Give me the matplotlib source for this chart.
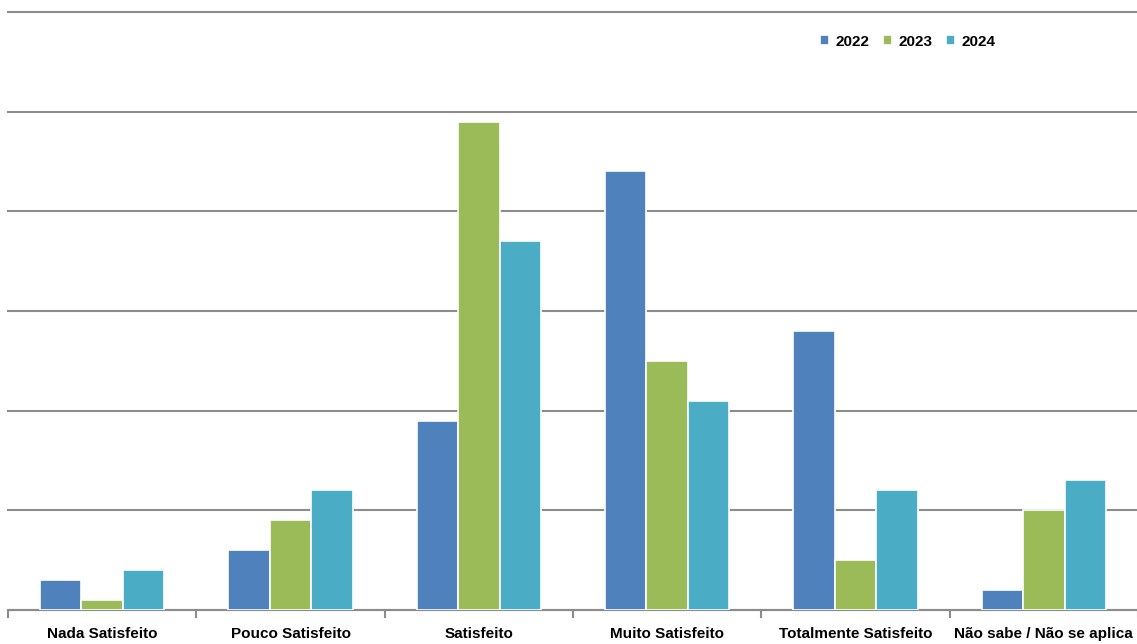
import matplotlib.pyplot as plt
import numpy as np

categories = ["Nada Satisfeito", "Pouco Satisfeito", "Satisfeito",
              "Muito Satisfeito", "Totalmente Satisfeito", "Não sabe / Não se aplica"]
years = ["2022", "2023", "2024"]
v2022 = [0.3, 0.6, 1.9, 4.4, 2.8, 0.2]
v2023 = [0.1, 0.9, 4.9, 2.5, 0.5, 1.0]
v2024 = [0.4, 1.2, 3.7, 2.1, 1.2, 1.3]
colors = ["#4F81BD", "#9BBB59", "#4BACC6"]

plt.rcParams['font.family'] = ['Liberation Sans', 'DejaVu Sans']

fig = plt.figure(figsize=(11.37, 6.44), dpi=100)
ax = fig.add_axes([8 / 1137, 34 / 644, 1130 / 1137, 598 / 644])

x = np.arange(len(categories))
w = 0.22
for i, (vals, c, yr) in enumerate(zip([v2022, v2023, v2024], colors, years)):
    ax.bar(x + (i - 1) * w, vals, w, color=c, edgecolor="white", linewidth=1.2,
           label=yr, zorder=3)

ax.set_xlim(-0.5, len(categories) - 0.5)
ax.set_ylim(0, 6)
ax.set_yticks(np.arange(0, 7, 1))
ax.yaxis.grid(True, color="#8c8c8c", linewidth=1.5, zorder=0)
for gl in ax.get_ygridlines():
    gl.set_clip_on(False)
ax.tick_params(axis="y", left=False, labelleft=False)
for s in ["top", "right", "left"]:
    ax.spines[s].set_visible(False)
ax.spines["bottom"].set_color("#8c8c8c")
ax.spines["bottom"].set_linewidth(1.5)

ax.set_xticks(np.arange(-0.5, len(categories) + 0.5, 1))
ax.set_xticklabels([])
ax.set_xticks(x, minor=True)
ax.set_xticklabels(categories, minor=True, fontsize=11, fontweight="bold")
ax.tick_params(axis="x", which="major", length=6, width=1.5, color="#8c8c8c")
ax.tick_params(axis="x", which="minor", length=0, pad=12)

ax.legend(loc="upper left", bbox_to_anchor=(798 / 1130, 0.985), ncol=3, frameon=False,
          prop={"size": 11, "weight": "bold"}, handlelength=0.6, handleheight=0.6,
          handletextpad=0.4, columnspacing=0.9)

fig.savefig("out.png", dpi=100)
